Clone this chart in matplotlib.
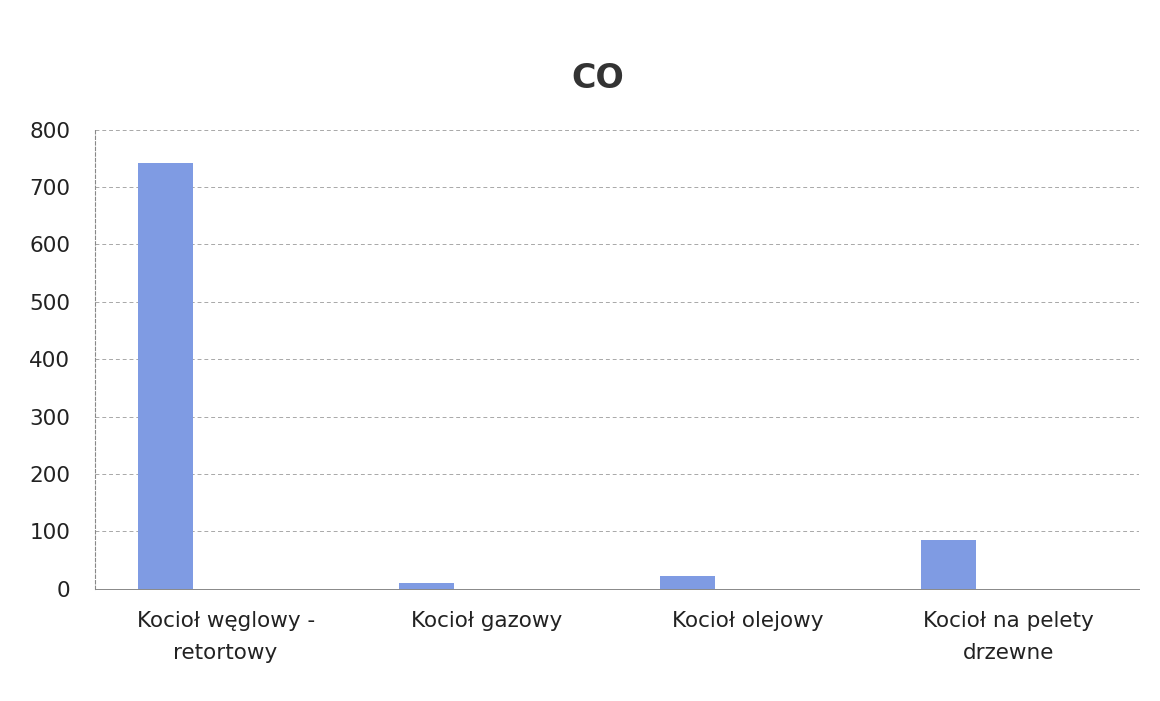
import numpy as np
import matplotlib.pyplot as plt

# CO emission per boiler type
categories = ['Kocioł węglowy -\nretortowy', 'Kocioł gazowy', 'Kocioł olejowy',
              'Kocioł na pelety\ndrzewne']
co_values = [742, 10, 22, 85]
y_ticks = [0, 100, 200, 300, 400, 500, 600, 700, 800]

fig = plt.figure(figsize=(11.6, 7.01), dpi=100)
ax = fig.add_axes([0.082, 0.16, 0.9, 0.655])

x = np.arange(len(categories))
# bars sit left of the category centre (first series of a cluster)
ax.bar(x - 0.23, co_values, width=0.21, color='#7f9be3', zorder=3)

ax.set_xlim(-0.5, len(categories) - 0.5)
ax.set_ylim(0, 800)
ax.set_yticks(y_ticks)
ax.set_yticklabels([str(t) for t in y_ticks], fontsize=15.5, color='#222222')
ax.set_xticks(x)
ax.set_xticklabels(categories, fontsize=15.5, color='#222222', linespacing=1.75)
ax.tick_params(axis='both', length=0)
ax.tick_params(axis='x', pad=16)
ax.tick_params(axis='y', pad=18)

ax.grid(axis='y', color='#a8a8a8', linestyle=(0, (4, 3)), linewidth=0.7, zorder=0)
for side in ['top', 'right']:
    ax.spines[side].set_visible(False)
ax.spines['left'].set_color('#888888')
ax.spines['left'].set_linestyle((0, (3, 2)))
ax.spines['left'].set_linewidth(0.8)
ax.spines['bottom'].set_color('#888888')
ax.spines['bottom'].set_linewidth(0.7)

fig.text(0.515, 0.875, 'CO', fontsize=24, fontweight='bold', color='#333333', ha='center')

fig.savefig('out.png', dpi=100)
